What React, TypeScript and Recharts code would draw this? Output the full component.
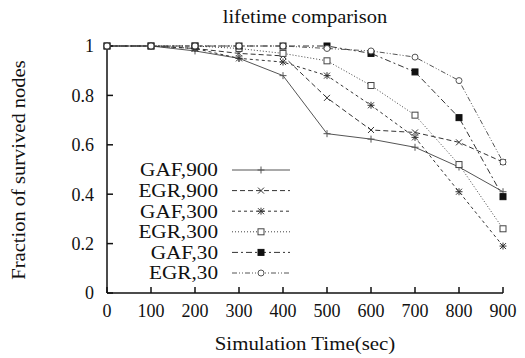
import React from 'react';
import { LineChart, Line, XAxis, YAxis } from 'recharts';

const times = [0, 100, 200, 300, 400, 500, 600, 700, 800, 900];
const gaf900 = [1, 1, 0.98, 0.95, 0.88, 0.645, 0.623, 0.59, 0.51, 0.41];
const egr900 = [1, 1, 0.99, 0.97, 0.96, 0.79, 0.66, 0.65, 0.61, 0.53];
const gaf300 = [1, 1, 0.99, 0.95, 0.935, 0.88, 0.76, 0.63, 0.41, 0.19];
const egr300 = [1, 1, 1, 0.99, 0.97, 0.94, 0.84, 0.72, 0.52, 0.26];
const gaf30 = [1, 1, 1, 1, 1, 1, 0.97, 0.895, 0.71, 0.39];
const egr30 = [1, 1, 1, 1, 1, 0.99, 0.98, 0.955, 0.86, 0.53];
const yTicks = [0, 0.2, 0.4, 0.6, 0.8, 1];

const data = times.map((t, i) => ({
  t,
  gaf900: gaf900[i],
  egr900: egr900[i],
  gaf300: gaf300[i],
  egr300: egr300[i],
  gaf30: gaf30[i],
  egr30: egr30[i],
}));

const series = [
  { key: 'gaf900', name: 'GAF,900', dash: undefined, marker: 'plus', color: '#555' },
  { key: 'egr900', name: 'EGR,900', dash: '5 3', marker: 'cross', color: '#333' },
  { key: 'gaf300', name: 'GAF,300', dash: '3 3', marker: 'star', color: '#333' },
  { key: 'egr300', name: 'EGR,300', dash: '1 2', marker: 'square', color: '#444' },
  { key: 'gaf30', name: 'GAF,30', dash: '6 3 2 3', marker: 'filled', color: '#333' },
  { key: 'egr30', name: 'EGR,30', dash: '5 2 1 2 1 2', marker: 'circle', color: '#555' },
];

const FONT = '"Liberation Serif", "Times New Roman", serif';

const Marker = ({ type, cx, cy, color }: any) => {
  const s = 3.5;
  if (cx == null || cy == null) return null;
  switch (type) {
    case 'plus':
      return (
        <g stroke={color} strokeWidth={1}>
          <line x1={cx - s} y1={cy} x2={cx + s} y2={cy} />
          <line x1={cx} y1={cy - s} x2={cx} y2={cy + s} />
        </g>
      );
    case 'cross':
      return (
        <g stroke={color} strokeWidth={1}>
          <line x1={cx - 3} y1={cy - 3} x2={cx + 3} y2={cy + 3} />
          <line x1={cx - 3} y1={cy + 3} x2={cx + 3} y2={cy - 3} />
        </g>
      );
    case 'star':
      return (
        <g stroke={color} strokeWidth={1}>
          <line x1={cx - 3} y1={cy - 3} x2={cx + 3} y2={cy + 3} />
          <line x1={cx - 3} y1={cy + 3} x2={cx + 3} y2={cy - 3} />
          <line x1={cx - s} y1={cy} x2={cx + s} y2={cy} />
          <line x1={cx} y1={cy - s} x2={cx} y2={cy + s} />
        </g>
      );
    case 'square':
      return <rect x={cx - 3} y={cy - 3} width={6} height={6} fill="#fff" stroke={color} strokeWidth={1} />;
    case 'filled':
      return <rect x={cx - 3} y={cy - 3} width={6} height={6} fill="#111" stroke="#111" />;
    case 'circle':
      return <circle cx={cx} cy={cy} r={3} fill="#fff" stroke={color} strokeWidth={1} />;
    default:
      return null;
  }
};

// text stretched a little horizontally, like the original plot
const Wide = ({ x, y, sx = 1, size = 18, anchor = 'middle', rotate = 0, children }: any) => (
  <g transform={`translate(${x},${y}) rotate(${rotate}) scale(${sx},1)`}>
    <text x={0} y={0} textAnchor={anchor} dy="0.35em" fontFamily={FONT} fontSize={size} fill="#111">
      {children}
    </text>
  </g>
);

const XTick = ({ x, y, payload }: any) => (
  <Wide x={x} y={y + 10} size={18}>{payload.value}</Wide>
);

const YTick = ({ x, y, payload }: any) => (
  <Wide x={x} y={y} size={18} anchor="end">{payload.value}</Wide>
);

const legendX = 218;
const legendY = 170;
const legendStep = 20.6;

const App = () => {
  return (
    <div style={{ position: 'absolute', left: 0, top: 0 }}>
      <LineChart width={525} height={358} data={data} margin={{ top: 46, right: 22, bottom: 35, left: 47 }}>
        <XAxis
          dataKey="t"
          type="number"
          domain={[0, 900]}
          ticks={times}
          height={30}
          tickSize={-6}
          tickMargin={14}
          tick={<XTick />}
          stroke="#111"
          strokeWidth={1.5}
        />
        <XAxis
          xAxisId="top"
          orientation="top"
          dataKey="t"
          type="number"
          domain={[0, 900]}
          ticks={times}
          height={0}
          tickSize={-6}
          tick={false}
          stroke="#111"
          strokeWidth={1.5}
        />
        <YAxis
          type="number"
          domain={[0, 1]}
          ticks={yTicks}
          width={60}
          tickSize={-6}
          tickMargin={19}
          tick={<YTick />}
          stroke="#111"
          strokeWidth={1.5}
        />
        <YAxis
          yAxisId="r"
          orientation="right"
          type="number"
          domain={[0, 1]}
          ticks={yTicks}
          width={0}
          tickSize={-6}
          tick={false}
          stroke="#111"
          strokeWidth={1.5}
        />
        {series.map((s) => (
          <Line
            key={s.key}
            dataKey={s.key}
            name={s.name}
            type="linear"
            stroke={s.color}
            strokeWidth={1}
            strokeDasharray={s.dash}
            isAnimationActive={false}
            dot={(p: any) => <Marker key={`${s.key}-${p.index}`} type={s.marker} cx={p.cx} cy={p.cy} color={s.color} />}
            activeDot={false}
          />
        ))}
        <Wide x={305} y={16} size={19} sx={1.08}>lifetime comparison</Wide>
        <Wide x={305} y={343} size={19} sx={1.1}>Simulation Time(sec)</Wide>
        <Wide x={18} y={170} size={19} sx={1.08} rotate={-90}>Fraction of survived nodes</Wide>
        {series.map((s, i) => {
          const cy = legendY + i * legendStep;
          return (
            <g key={`lg-${s.key}`}>
              <Wide x={legendX} y={cy} size={18} sx={1.18} anchor="end">{s.name}</Wide>
              <line x1={232} y1={cy} x2={290} y2={cy} stroke={s.color} strokeWidth={1} strokeDasharray={s.dash} />
              <Marker type={s.marker} cx={261} cy={cy} color={s.color} />
            </g>
          );
        })}
      </LineChart>
    </div>
  );
};

export default App;
